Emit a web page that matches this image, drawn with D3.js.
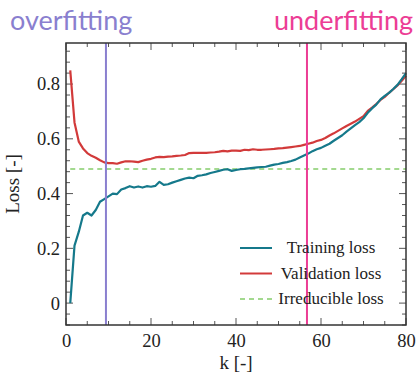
<!DOCTYPE html>
<html><head><meta charset="utf-8">
<script src="https://cdn.jsdelivr.net/npm/d3@7"></script>
<style>body{margin:0;background:#fff;}svg{display:block;}</style>
</head><body>
<svg id="chart" width="419" height="373"></svg>
<script>
const kValues = d3.range(1, 81);
const trainingLoss = [0.00,0.21,0.26,0.32,0.33,0.32,0.34,0.37,0.38,0.39,
0.40,0.398,0.415,0.42,0.427,0.422,0.426,0.422,0.427,0.425,
0.428,0.443,0.432,0.434,0.44,0.445,0.45,0.455,0.458,0.456,
0.465,0.467,0.47,0.475,0.479,0.483,0.487,0.489,0.483,0.486,
0.489,0.49,0.492,0.494,0.496,0.497,0.498,0.502,0.506,0.508,
0.512,0.515,0.519,0.524,0.532,0.539,0.546,0.555,0.562,0.567,
0.575,0.582,0.593,0.603,0.613,0.626,0.638,0.65,0.661,0.675,
0.695,0.711,0.725,0.744,0.757,0.768,0.782,0.797,0.818,0.840];
const validationLoss = [0.85,0.66,0.59,0.565,0.548,0.538,0.531,0.522,0.514,0.511,
0.511,0.509,0.514,0.518,0.518,0.517,0.515,0.52,0.524,0.527,
0.532,0.534,0.533,0.535,0.536,0.538,0.539,0.541,0.548,0.549,
0.549,0.549,0.549,0.55,0.551,0.553,0.556,0.554,0.557,0.557,
0.556,0.56,0.559,0.562,0.56,0.56,0.561,0.562,0.563,0.565,
0.566,0.568,0.57,0.572,0.574,0.578,0.582,0.586,0.592,0.596,
0.603,0.612,0.62,0.629,0.638,0.647,0.655,0.663,0.673,0.683,
0.702,0.714,0.727,0.742,0.753,0.768,0.781,0.795,0.812,0.83];
const irreducibleLoss = 0.49;
const overfitK = 9.4;
const underfitK = 56.7;
const xTicks = [0,20,40,60,80];
const yTicks = [0,0.2,0.4,0.6,0.8];
const seriesNames = ["Training loss","Validation loss","Irreducible loss"];
const annotations = ["overfitting","underfitting"];

const svg = d3.select("#chart");
const L = 66, R = 406, T = 43, B = 325;
const x = d3.scaleLinear().domain([0,80]).range([L,R]);
const y = d3.scaleLinear().domain([-0.08,0.95]).range([B,T]);

const cTrain = "#15798b", cVal = "#d23a3a", cIrr = "#a3d98f", cOver = "#8a7fcf", cUnder = "#ec3d95";
const serif = "'Liberation Serif','DejaVu Serif',serif";

const g = svg.append("g");
const xMinor = d3.range(0, 81, 5), yMinor = d3.range(-0.08, 0.95, 0.04).map(v=>+v.toFixed(2));
xMinor.forEach(v=>{
  const major = v % 20 === 0; const len = major ? 7 : 4;
  g.append("line").attr("x1",x(v)).attr("x2",x(v)).attr("y1",B).attr("y2",B-len).attr("stroke","#555").attr("stroke-width",1);
  g.append("line").attr("x1",x(v)).attr("x2",x(v)).attr("y1",T).attr("y2",T+len).attr("stroke","#555").attr("stroke-width",1);
});
yMinor.forEach(v=>{
  const major = Math.abs(Math.round(v/0.2)*0.2 - v) < 1e-6; const len = major ? 7 : 4;
  g.append("line").attr("y1",y(v)).attr("y2",y(v)).attr("x1",L).attr("x2",L+len).attr("stroke","#555").attr("stroke-width",1);
  g.append("line").attr("y1",y(v)).attr("y2",y(v)).attr("x1",R).attr("x2",R-len).attr("stroke","#555").attr("stroke-width",1);
});

const xAxis = svg.append("g").attr("transform",`translate(0,${B})`)
  .call(d3.axisBottom(x).tickValues(xTicks).tickSize(0).tickPadding(9).tickFormat(d3.format("d")));
const yAxis = svg.append("g").attr("transform",`translate(${L},0)`)
  .call(d3.axisLeft(y).tickValues(yTicks).tickSize(0).tickPadding(6).tickFormat(d=> d===0 ? "0" : d3.format(".1f")(d)));
[xAxis,yAxis].forEach(a=>{ a.select(".domain").remove(); a.selectAll("text").attr("font-family",serif).attr("font-size",18.5).attr("fill","#222"); });

svg.append("line").attr("x1",x(1)).attr("x2",x(80)).attr("y1",y(irreducibleLoss)).attr("y2",y(irreducibleLoss))
  .attr("stroke",cIrr).attr("stroke-width",2).attr("stroke-dasharray","5,4");

const line = d3.line().x((d,i)=>x(kValues[i])).y(d=>y(d));
svg.append("path").datum(validationLoss).attr("d",line).attr("fill","none").attr("stroke",cVal).attr("stroke-width",2.2).attr("stroke-linejoin","round");
svg.append("path").datum(trainingLoss).attr("d",line).attr("fill","none").attr("stroke",cTrain).attr("stroke-width",2.2).attr("stroke-linejoin","round");

svg.append("line").attr("x1",x(overfitK)).attr("x2",x(overfitK)).attr("y1",T).attr("y2",B).attr("stroke",cOver).attr("stroke-width",2);
svg.append("line").attr("x1",x(underfitK)).attr("x2",x(underfitK)).attr("y1",T).attr("y2",B).attr("stroke",cUnder).attr("stroke-width",2);

svg.append("rect").attr("x",L).attr("y",T).attr("width",R-L).attr("height",B-T).attr("fill","none").attr("stroke","#333").attr("stroke-width",1.5);

const sans = "'Lato','Noto Sans',sans-serif";
svg.append("text").attr("x",10).attr("y",30).text(annotations[0]).attr("font-family",sans).attr("font-size",27).attr("fill",cOver);
svg.append("text").attr("x",413).attr("y",30).attr("text-anchor","end").text(annotations[1]).attr("font-family",sans).attr("font-size",27).attr("fill",cUnder);

svg.append("text").attr("x",(L+R)/2).attr("y",369).attr("text-anchor","middle").attr("font-family",serif).attr("font-size",19).attr("fill","#222").text("k [-]");
svg.append("text").attr("transform",`translate(19,${(T+B)/2}) rotate(-90)`).attr("text-anchor","middle").attr("font-family",serif).attr("font-size",19).attr("fill","#222").text("Loss [-]");

const legY = [248, 273.5, 299];
const legColors = [cTrain, cVal, cIrr];
seriesNames.forEach((n,i)=>{
  svg.append("line").attr("x1",240).attr("x2",272).attr("y1",legY[i]).attr("y2",legY[i])
    .attr("stroke",legColors[i]).attr("stroke-width",2).attr("stroke-dasharray", i===2 ? "5,4" : null);
  svg.append("text").attr("x",331).attr("y",legY[i]+5).attr("text-anchor","middle").attr("font-family",serif).attr("font-size",17).attr("fill","#222").text(n);
});
</script>
</body></html>
